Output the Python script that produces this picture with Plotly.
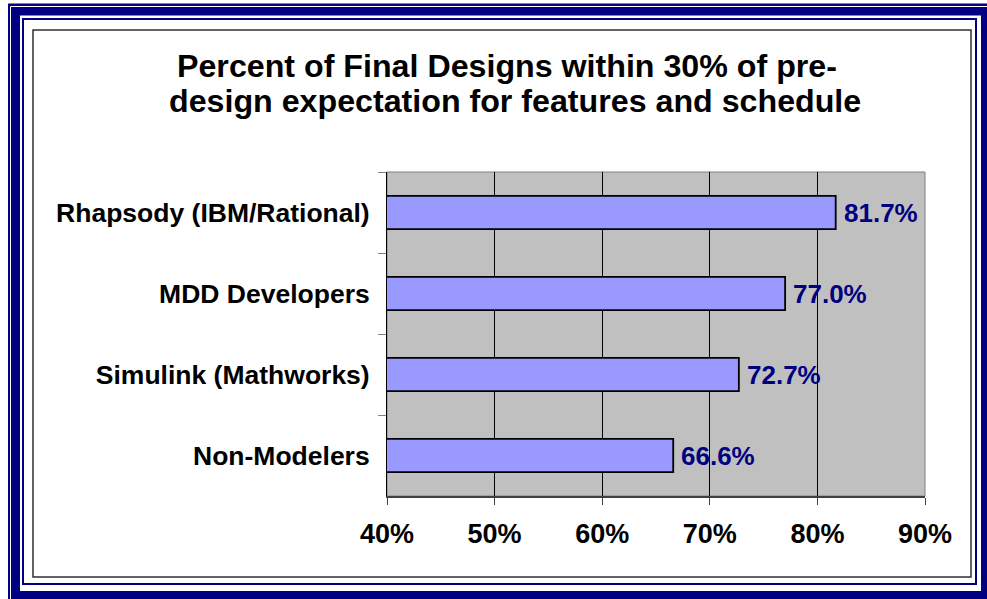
import plotly.graph_objects as go

categories = ["Rhapsody (IBM/Rational)", "MDD Developers", "Simulink (Mathworks)", "Non-Modelers"]
values = [81.7, 77.0, 72.7, 66.6]
x_ticks = [40, 50, 60, 70, 80, 90]
x_tick_labels = ["40%", "50%", "60%", "70%", "80%", "90%"]
title_lines = ["Percent of Final Designs within 30% of pre-",
               "design expectation for features and schedule"]

W, H = 987, 599
PL, PR, PT, PB = 387, 925, 172, 496
FONT = "Arial, Liberation Sans, sans-serif"
NAVY = "#000080"


def px(x):
    return (x - PL) / (PR - PL)


def py(y):
    return (PB - y) / (PB - PT)


fig = go.Figure()
fig.add_trace(go.Bar(
    x=values, y=categories, orientation="h",
    marker=dict(color="#9999FF", line=dict(color="black", width=1.8)),
    hoverinfo="skip",
))

annotations = []
for c, v in zip(categories, values):
    annotations.append(dict(
        x=v, y=c, xref="x", yref="y", text=f"{v:.1f}%", showarrow=False,
        xanchor="left", xshift=6, yanchor="middle",
        font=dict(family=FONT, size=26, color=NAVY, weight="bold"),
    ))

title_pos = [(507, 66), (515, 101)]
for t, (xc, yc) in zip(title_lines, title_pos):
    annotations.append(dict(
        x=px(xc), y=py(yc), xref="paper", yref="paper", text=t, showarrow=False,
        xanchor="center", yanchor="middle",
        font=dict(family=FONT, size=32.2, color="black", weight="bold"),
    ))

shapes = [
    # thick navy outer frame
    dict(type="rect", xref="paper", yref="paper", x0=px(14), y0=py(9.5), x1=px(987), y1=py(597),
         line=dict(color=NAVY, width=12), fillcolor="rgba(0,0,0,0)", layer="above"),
    # thin white line inside the thick frame
    dict(type="rect", xref="paper", yref="paper", x0=px(10.5), y0=py(6.5), x1=px(1000), y1=py(610),
         line=dict(color="white", width=1), fillcolor="rgba(0,0,0,0)", layer="above"),
    # thin navy inner frame line
    dict(type="rect", xref="paper", yref="paper", x0=px(23), y0=py(19), x1=px(976), y1=py(584),
         line=dict(color=NAVY, width=2), fillcolor="rgba(0,0,0,0)", layer="above"),
    # chart area box
    dict(type="rect", xref="paper", yref="paper", x0=px(33), y0=py(30), x1=px(971), y1=py(577),
         line=dict(color="#303030", width=1.5), fillcolor="rgba(0,0,0,0)", layer="above"),
    # plot area border
    dict(type="rect", xref="paper", yref="paper", x0=0, y0=0, x1=1, y1=1,
         line=dict(color="#808080", width=1), fillcolor="rgba(0,0,0,0)", layer="below"),
]

fig.update_layout(
    width=W, height=H,
    margin=dict(l=PL, r=W - PR, t=PT, b=H - PB, pad=0),
    paper_bgcolor="white", plot_bgcolor="#C0C0C0",
    showlegend=False, bargap=0.59,
    annotations=annotations, shapes=shapes,
    font=dict(family=FONT, color="black"),
)
fig.update_xaxes(
    range=[40, 90], tickvals=x_ticks, ticktext=x_tick_labels,
    showgrid=True, gridcolor="black", gridwidth=1, zeroline=False,
    showline=True, linecolor="#404040", linewidth=2,
    ticks="outside", ticklen=7, tickcolor="#404040", tickwidth=1,
    tickfont=dict(family=FONT, size=27, color="black", weight="bold"),
    ticklabelstandoff=6,
)
fig.update_yaxes(
    categoryorder="array", categoryarray=categories, autorange="reversed",
    showgrid=False, zeroline=False,
    showline=True, linecolor="black", linewidth=1,
    ticks="outside", ticklen=8, tickcolor="#808080", tickwidth=1, tickson="boundaries",
    tickfont=dict(family=FONT, size=26.5, color="black", weight="bold"),
    ticklabelstandoff=11,
)

fig.write_html("out.html")
